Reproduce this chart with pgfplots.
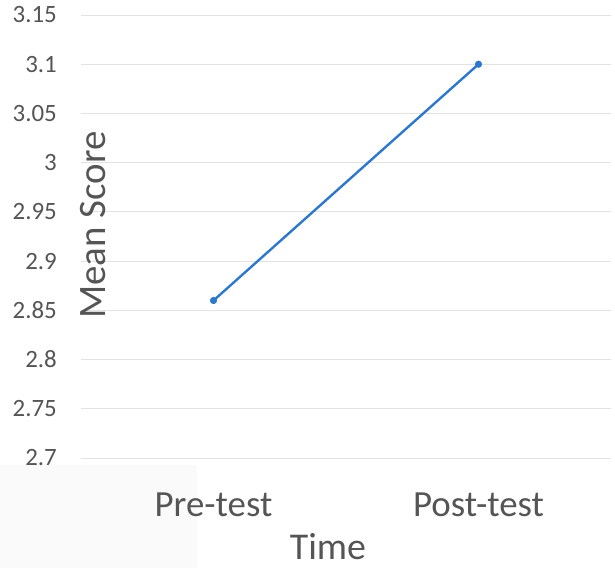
\documentclass[border=0pt]{standalone}
\usepackage{pgfplots}
\pgfplotsset{compat=1.18}
\usepackage{fontspec}
\setmainfont{Carlito}
\definecolor{txtgray}{HTML}{555555}
\definecolor{gridgray}{HTML}{E2E2E2}
\definecolor{lineblue}{HTML}{2E78CC}
\begin{document}
\begin{tikzpicture}
\fill[black!2] (0,0) rectangle (197bp,103bp);
\begin{axis}[
  at={(81bp,110bp)}, anchor=south west,
  scale only axis,
  width=530bp, height=443bp,
  xmin=-0.5, xmax=1.5,
  ymin=2.7, ymax=3.15,
  xtick={0,1},
  xticklabels={Pre-test,Post-test},
  ytick={2.7,2.75,2.8,2.85,2.9,2.95,3,3.05,3.1,3.15},
  yticklabels={2.7,2.75,2.8,2.85,2.9,2.95,3,3.05,3.1,3.15},
  axis line style={draw=none},
  major tick length=0pt,
  ymajorgrids,
  grid style={gridgray, line width=0.9bp},
  yticklabel style={font=\fontsize{25}{30}\selectfont, text=txtgray, anchor=east, inner sep=0pt, xshift=-24bp},
  xticklabel style={font=\fontsize{37}{42}\selectfont, text=txtgray, anchor=north, inner sep=0pt, yshift=-35bp},
  ylabel={Mean Score},
  ylabel style={font=\fontsize{39}{44}\selectfont, text=txtgray, at={(axis description cs:0.0236,0.526)}, anchor=center, inner sep=0pt},
  xlabel={Time},
  xlabel style={font=\fontsize{38}{44}\selectfont, text=txtgray, at={(axis description cs:0.466,0)}, anchor=base, inner sep=0pt, yshift=-101bp},
  clip=false,
]
\addplot[color=lineblue, line width=2.4bp, mark=*, mark size=2.3bp] coordinates {(0,2.86) (1,3.10)};
\end{axis}
\pgfresetboundingbox
\path[use as bounding box] (0,0) rectangle (615bp,568bp);
\end{tikzpicture}
\end{document}
